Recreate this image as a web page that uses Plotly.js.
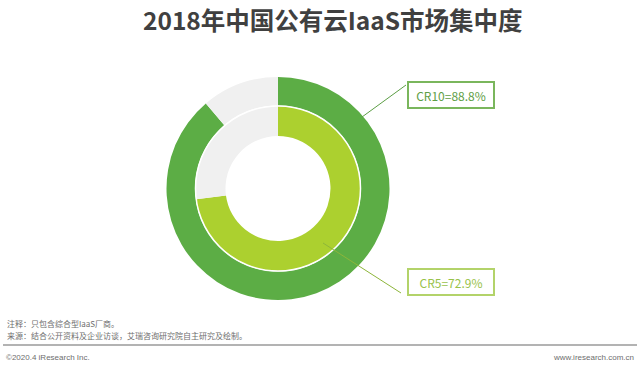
<!DOCTYPE html>
<html><head><meta charset="utf-8">
<script src="https://cdn.plot.ly/plotly-3.0.1.min.js"></script>
<style>html,body{margin:0;padding:0;background:#fff}#chart{width:640px;height:366px}</style>
</head><body><div id="chart"></div>
<script>
const sliceLabels = ['CR', '其他'];
const cr10Values = [88.8, 11.2];
const cr5Values = [72.9, 27.1];
const cr10Label = 'CR10';
const cr5Label = 'CR5';
const titleText = '2018年中国公有云IaaS市场集中度';
const noteText = '注释：只包含综合型IaaS厂商。';
const sourceText = '来源：结合公开资料及企业访谈，艾瑞咨询研究院自主研究及绘制。';
const copyText = '©2020.4 iResearch Inc.';
const siteText = 'www.iresearch.com.cn';

const W = 640, H = 366;
const px = x => x / W, py = y => 1 - y / H;
const cx = 278, cy = 188.5;
const rOut = 111.5, rMid = 82.5, rIn = 52.5;
const CJK = '"Noto Sans CJK SC", "Microsoft YaHei", sans-serif';

const traces = [
  {type: 'pie', values: cr10Values, labels: sliceLabels, sort: false, direction: 'clockwise', rotation: 0,
   hole: (rMid + 0.5) / rOut, textinfo: 'none', hoverinfo: 'none', showlegend: false,
   marker: {colors: ['#5cad45', '#f0f0f0'], line: {color: '#ffffff', width: 0}},
   domain: {x: [px(cx - rOut), px(cx + rOut)], y: [py(cy + rOut), py(cy - rOut)]}},
  {type: 'pie', values: cr5Values, labels: sliceLabels, sort: false, direction: 'clockwise', rotation: 0,
   hole: rIn / rMid, textinfo: 'none', hoverinfo: 'none', showlegend: false,
   marker: {colors: ['#acd02f', '#f0f0f0'], line: {color: '#ffffff', width: 0}},
   domain: {x: [px(cx - rMid), px(cx + rMid)], y: [py(cy + rMid), py(cy - rMid)]}}
];

const layout = {
  width: W, height: H, margin: {l: 0, r: 0, t: 0, b: 0},
  paper_bgcolor: '#fff', plot_bgcolor: '#fff',
  title: {text: '<b>' + titleText + '</b>', x: 0.52, xanchor: 'center', y: py(21), yanchor: 'middle',
          font: {family: CJK, size: 24.5, color: '#404040'}},
  shapes: [
    {type: 'circle', xref: 'paper', yref: 'paper', x0: px(cx - rMid), x1: px(cx + rMid), y0: py(cy + rMid), y1: py(cy - rMid),
     line: {color: '#ffffff', width: 1.5}},
    {type: 'line', xref: 'paper', yref: 'paper', x0: px(362), y0: py(117), x1: px(406), y1: py(85),
     line: {color: '#5c9e45', width: 1}},
    {type: 'line', xref: 'paper', yref: 'paper', x0: px(323), y0: py(243), x1: px(401), y1: py(293),
     line: {color: '#8db53a', width: 1}},
    {type: 'line', xref: 'paper', yref: 'paper', x0: px(3), y0: py(345), x1: px(637), y1: py(345),
     line: {color: '#9a9a9a', width: 1.5}}
  ],
  annotations: [
    {text: cr10Label + '=' + cr10Values[0] + '%', xref: 'paper', yref: 'paper', x: px(450.5), y: py(95),
     xanchor: 'center', yanchor: 'middle', showarrow: false, width: 80, height: 20,
     font: {family: CJK, size: 12, color: '#5e9e45'}, bordercolor: '#7ab65c', borderwidth: 2, borderpad: 2, bgcolor: '#fff'},
    {text: cr5Label + '=' + cr5Values[0] + '%', xref: 'paper', yref: 'paper', x: px(450.5), y: py(282),
     xanchor: 'center', yanchor: 'middle', showarrow: false, width: 80, height: 20,
     font: {family: CJK, size: 12, color: '#98c24a'}, bordercolor: '#b3d36a', borderwidth: 2, borderpad: 2, bgcolor: '#fff'},
    {text: noteText, xref: 'paper', yref: 'paper', x: px(5), y: py(323), xanchor: 'left', yanchor: 'middle', showarrow: false,
     font: {family: CJK, size: 8, color: '#6e6e6e'}},
    {text: sourceText, xref: 'paper', yref: 'paper', x: px(5), y: py(335), xanchor: 'left', yanchor: 'middle', showarrow: false,
     font: {family: CJK, size: 8, color: '#6e6e6e'}},
    {text: copyText, xref: 'paper', yref: 'paper', x: px(4), y: py(357), xanchor: 'left', yanchor: 'middle', showarrow: false,
     font: {family: 'Liberation Sans, Arial, sans-serif', size: 8, color: '#6e6e6e'}},
    {text: siteText, xref: 'paper', yref: 'paper', x: px(636), y: py(357), xanchor: 'right', yanchor: 'middle', showarrow: false,
     font: {family: 'Liberation Sans, Arial, sans-serif', size: 8, color: '#6e6e6e'}}
  ]
};

Plotly.newPlot('chart', traces, layout, {displayModeBar: false, staticPlot: true});
</script></body></html>
